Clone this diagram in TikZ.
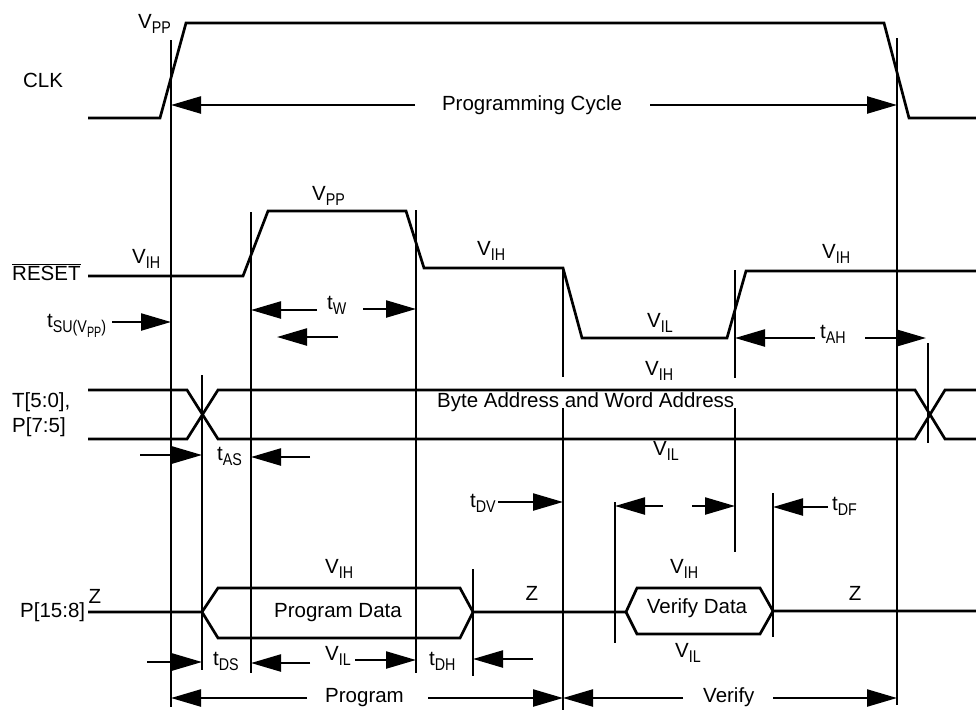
\documentclass[tikz,border=0pt]{standalone}
\usepackage{fontspec}
\setmainfont{Liberation Sans}
\usepackage{graphicx}
\usetikzlibrary{arrows.meta}
\newcommand\fs{\fontsize{20.5}{24}\selectfont}
\newcommand\lsub[1]{\raisebox{-5.5pt}{\fontsize{17}{17}\selectfont\scalebox{0.84}[1]{#1}}}
\newcommand\llsub[1]{\raisebox{-5pt}{\fontsize{15}{15}\selectfont\scalebox{0.85}[1]{#1}}}
\begin{document}
\begin{tikzpicture}[x=1pt,y=-1pt,
  sig/.style={line width=2.7pt, line join=miter},
  vl/.style={line width=2.3pt},
  arr/.style={line width=2.3pt,-{Triangle[length=30pt,width=17pt]}},
  lab/.style={inner sep=0pt, anchor=base west, font=\fs},
  clab/.style={inner sep=0pt, anchor=base, font=\fs}]
\useasboundingbox (0,0) rectangle (976,712);

% signals
\draw[sig] (88,118) -- (160,118) -- (186,23) -- (884,23) -- (909,118) -- (976,118);
\draw[sig] (88,276) -- (243,276) -- (268,211) -- (406,211) -- (424,268) -- (563,268) -- (582,338) -- (727,338) -- (746,271) -- (976,271);
\draw[sig] (88,390) -- (187,390) -- (218,439) -- (915,439) -- (945,390) -- (976,390);
\draw[sig] (88,439) -- (187,439) -- (218,390) -- (915,390) -- (945,439) -- (976,439);
\draw[sig] (88,612) -- (202,612) -- (218,588) -- (460,588) -- (473,612) -- (626,612) -- (637,588) -- (760,588) -- (773,611) -- (976,611);
\draw[sig] (202,612) -- (218,638) -- (460,638) -- (473,612);
\draw[sig] (626,612) -- (637,634) -- (760,634) -- (773,611);

% vertical reference lines
\draw[vl] (171,40) -- (171,707);
\draw[vl] (897,38) -- (897,705);
\draw[vl] (251,212) -- (251,673);
\draw[vl] (416,210) -- (416,673);
\draw[vl] (563,268) -- (563,377);
\draw[vl] (563,408) -- (563,710);
\draw[vl] (735,270) -- (735,378);
\draw[vl] (735,408) -- (735,552);
\draw[vl] (202,375) -- (202,670);
\draw[vl] (928,343) -- (928,443);
\draw[vl] (473,569) -- (473,676);
\draw[vl] (615,502) -- (615,643);
\draw[vl] (773,493) -- (773,637);

% arrows
\draw[arr] (415,105) -- (171,105);
\draw[arr] (650,105) -- (897,105);
\draw[arr] (112,322) -- (171,322);
\draw[arr] (317,310) -- (251,310);
\draw[arr] (363,309) -- (416,309);
\draw[arr] (338,337) -- (277,337);
\draw[arr] (815,338) -- (735,338);
\draw[arr] (865,338) -- (926,338);
\draw[arr] (140,455) -- (202,455);
\draw[arr] (310,457) -- (251,457);
\draw[arr] (498,502) -- (563,502);
\draw[arr] (663,506) -- (615,506);
\draw[arr] (692,506) -- (735,506);
\draw[arr] (828,507) -- (773,507);
\draw[arr] (147,662) -- (202,662);
\draw[arr] (310,663) -- (251,663);
\draw[arr] (355,660) -- (416,660);
\draw[arr] (533,659) -- (473,659);
\draw[arr] (307,698) -- (171,698);
\draw[arr] (428,698) -- (563,698);
\draw[arr] (683,698) -- (563,698);
\draw[arr] (773,698) -- (897,698);

% labels
\node[clab] (clk) at (43,87) {CLK};
\node[lab] (vpp1) at (138,28) {V\lsub{PP}};
\node[clab] (pc) at (532,110) {Programming Cycle};
\node[lab] (reset) at (12,280) {$\overline{\hbox{RESET}}$};
\node[lab] (vih1) at (132,263) {V\lsub{IH}};
\node[lab] (vpp2) at (312,200) {V\lsub{PP}};
\node[lab] (vih2) at (477,255) {V\lsub{IH}};
\node[lab] (vil1) at (647,327) {V\lsub{IL}};
\node[lab] (vih3) at (822,258) {V\lsub{IH}};
\node[lab] (tsu) at (47,327) {t\lsub{SU(V\llsub{PP})}};
\node[lab] (tw) at (327,309) {t\lsub{W}};
\node[lab] (tah) at (820,338) {t\lsub{AH}};
\node[lab] (t50) at (12,407) {T[5:0],};
\node[lab] (p75) at (12,432) {P[7:5]};
\node[lab] (vih4) at (645,375) {V\lsub{IH}};
\node[lab] (addr) at (437,407) {Byte Address and Word Address};
\node[lab] (vil2) at (653,455) {V\lsub{IL}};
\node[lab] (tas) at (217,460) {t\lsub{AS}};
\node[lab] (tdv) at (470,507) {t\lsub{DV}};
\node[lab] (tdf) at (832,510) {t\lsub{DF}};
\node[lab] (p158) at (20,617) {P[15:8]};
\node[clab] (z1) at (95,603) {Z};
\node[lab] (vih5) at (325,573) {V\lsub{IH}};
\node[clab] (pdata) at (338,617) {Program Data};
\node[lab] (vil3) at (325,660) {V\lsub{IL}};
\node[clab] (z2) at (532,600) {Z};
\node[lab] (vih6) at (670,573) {V\lsub{IH}};
\node[clab] (vdata) at (697,613) {Verify Data};
\node[lab] (vil4) at (675,657) {V\lsub{IL}};
\node[clab] (z3) at (855,600) {Z};
\node[lab] (tds) at (213,665) {t\lsub{DS}};
\node[lab] (tdh) at (429,665) {t\lsub{DH}};
\node[lab] (prog) at (325,702) {Program};
\node[lab] (ver) at (703,702) {Verify};
\end{tikzpicture}
\end{document}
